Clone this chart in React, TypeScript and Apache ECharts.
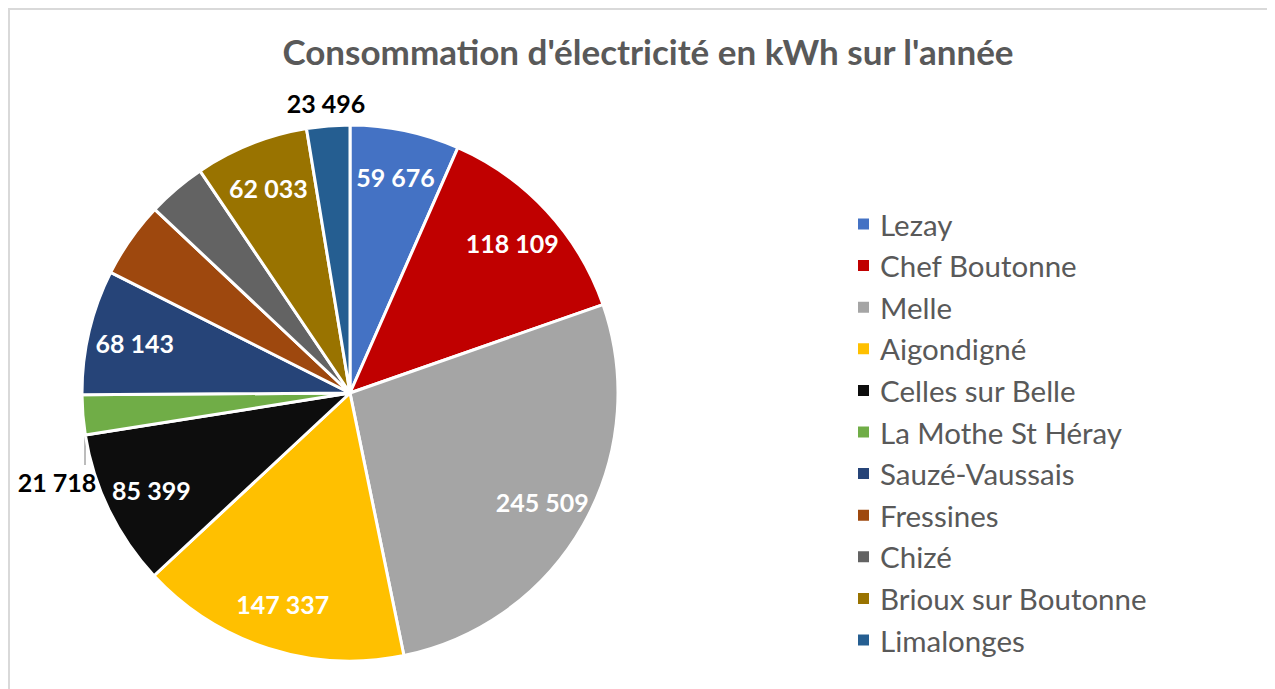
import React, { useEffect, useRef } from "react";
import * as echarts from "echarts";

const TITLE = "Consommation d'électricité en kWh sur l'année";
const communes = [
  "Lezay",
  "Chef Boutonne",
  "Melle",
  "Aigondigné",
  "Celles sur Belle",
  "La Mothe St Héray",
  "Sauzé-Vaussais",
  "Fressines",
  "Chizé",
  "Brioux sur Boutonne",
  "Limalonges",
];
const consommation = [59676, 118109, 245509, 147337, 85399, 21718, 68143, 41500, 32000, 62033, 23496];
const colors = [
  "#4472C4",
  "#C00000",
  "#A5A5A5",
  "#FFC000",
  "#0D0D0D",
  "#70AD47",
  "#264478",
  "#9E480E",
  "#636363",
  "#997300",
  "#255E91",
];
// which labels are drawn inside the slices, outside, or not at all
const insideLabels = [true, true, true, true, true, false, true, false, false, true, false];
const outsideLabels = [false, false, false, false, false, true, false, false, false, false, true];

const fmt = (v: number) => String(v).replace(/\B(?=(\d{3})+(?!\d))/g, " ");

const CX = 340;
const CY = 383;
const R = 268;

export default function App() {
  const ref = useRef<HTMLDivElement>(null);
  useEffect(() => {
    if (!ref.current) return;
    const chart = echarts.init(ref.current, undefined, { renderer: "svg" });
    const mainData = communes.map((name, i) => ({
      name,
      value: consommation[i],
      itemStyle: { color: colors[i] },
      label: { show: outsideLabels[i] },
      labelLine: { show: outsideLabels[i] && name === "La Mothe St Héray" },
    }));
    const overlayData = communes.map((name, i) => ({
      name,
      value: consommation[i],
      label: { show: insideLabels[i] },
    }));
    chart.setOption({
      animation: false,
      backgroundColor: "#ffffff",
      title: {
        text: TITLE,
        left: 633,
        top: 18,
        textAlign: "center",
        textStyle: {
          fontFamily: "Lato",
          fontWeight: "bold",
          fontSize: 35,
          color: "#595959",
        },
      },
      legend: {
        orient: "vertical",
        left: 841,
        top: 194,
        itemWidth: 13,
        itemHeight: 13,
        itemGap: 11.6,
        icon: "rect",
        data: communes,
        textStyle: {
          fontFamily: "Lato",
          fontSize: 29.5,
          color: "#595959",
          lineHeight: 30,
          padding: [0, 0, 0, 5],
        },
      },
      series: [
        {
          type: "pie",
          center: [CX, CY],
          radius: [0, R],
          startAngle: 90,
          clockwise: true,
          avoidLabelOverlap: false,
          data: mainData,
          itemStyle: { borderColor: "#ffffff", borderWidth: 3 },
          label: {
            position: "outside",
            overflow: "none",
            edgeDistance: 0,
            formatter: (p: any) => fmt(p.value),
            fontFamily: "Lato",
            fontWeight: "bold",
            fontSize: 25,
            color: "#000000",
          },
          labelLine: { length: 10, length2: 5, lineStyle: { color: "#A6A6A6", width: 1.5 } },
          labelLayout: (p: any) => {
            const name = communes[p.dataIndex];
            if (name === "Limalonges") {
              return { x: CX - 24, y: CY - 290, align: "center", verticalAlign: "middle" };
            }
            if (name === "La Mothe St Héray") {
              return {
                x: CX - 293,
                y: CY + 89,
                align: "center",
                verticalAlign: "middle",
                labelLinePoints: [
                  [CX - 265, CY + 42],
                  [CX - 265, CY + 57],
                  [CX - 265, CY + 72],
                ],
              };
            }
            return {};
          },
          emphasis: { disabled: true },
        },
        {
          type: "pie",
          center: [CX, CY],
          radius: [168, R],
          startAngle: 90,
          clockwise: true,
          silent: true,
          data: overlayData,
          itemStyle: { color: "rgba(0,0,0,0)", borderWidth: 0 },
          label: {
            position: "inside",
            formatter: (p: any) => fmt(p.value),
            fontFamily: "Lato",
            fontWeight: "bold",
            fontSize: 25,
            color: "#ffffff",
          },
          labelLine: { show: false },
          emphasis: { disabled: true },
        },
      ],
    });
    return () => chart.dispose();
  }, []);
  return (
    <div
      style={{
        width: 1267,
        height: 681,
        boxSizing: "border-box",
        borderTop: "2px solid #d9d9d9",
        borderLeft: "2px solid #d9d9d9",
        background: "#ffffff",
      }}
    >
      <div ref={ref} style={{ width: 1265, height: 679 }} />
    </div>
  );
}
